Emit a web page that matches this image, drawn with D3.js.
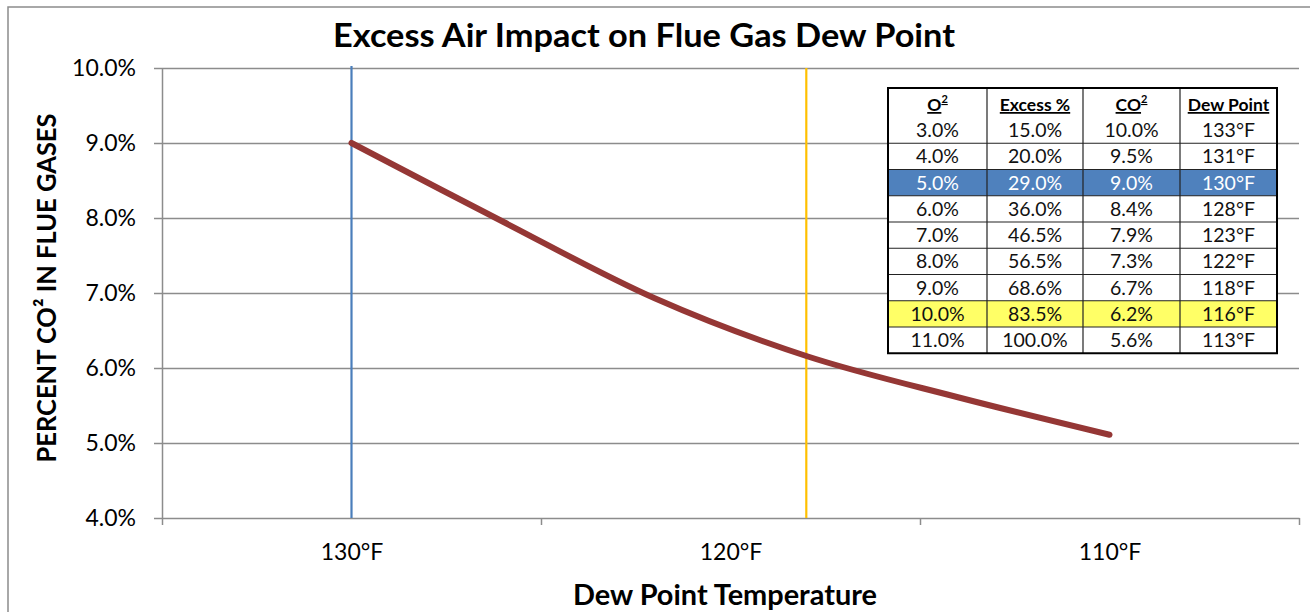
<!DOCTYPE html>
<html>
<head>
<meta charset="utf-8">
<script src="https://cdn.jsdelivr.net/npm/d3@7.9.0/dist/d3.min.js"></script>
<style>
  body { margin: 0; background: #fff; }
  text { font-family: Lato, 'Open Sans', sans-serif; }
</style>
</head>
<body>
<div id="chart"></div>
<script>
// curve values
const dewPoint = [130, 126, 122, 118, 114, 110];
const co2Pct = [9.0, 7.95, 6.93, 6.16, 5.61, 5.11];

const yTicks = [4, 5, 6, 7, 8, 9, 10];
const xLabelTicks = [130, 120, 110];
const xMarkTicks = [135, 125, 115, 105];

// vertical marker lines
const markerTemps = [130, 118];
const markerColors = ['#4a7ebb', '#ffc000'];

// inset table
const tableHead = ['O', 'Excess %', 'CO', 'Dew Point'];
const tableO2 = ['3.0%', '4.0%', '5.0%', '6.0%', '7.0%', '8.0%', '9.0%', '10.0%', '11.0%'];
const tableExcess = ['15.0%', '20.0%', '29.0%', '36.0%', '46.5%', '56.5%', '68.6%', '83.5%', '100.0%'];
const tableCO2 = ['10.0%', '9.5%', '9.0%', '8.4%', '7.9%', '7.3%', '6.7%', '6.2%', '5.6%'];
const tableDew = ['133°F', '131°F', '130°F', '128°F', '123°F', '122°F', '118°F', '116°F', '113°F'];
const highlightRows = { 2: '#4f81bd', 7: '#ffff66' };

const width = 1310;
const height = 612;
const plot = { left: 162, right: 1299, top: 68, bottom: 518 };

const svg = d3.select('#chart')
  .append('svg')
  .attr('width', width)
  .attr('height', height);

// outer chart frame
svg.append('rect')
  .attr('x', 8).attr('y', 7)
  .attr('width', 1400).attr('height', 700)
  .attr('fill', 'none')
  .attr('stroke', '#8c8c8c')
  .attr('stroke-width', 1.5);

const x = d3.scaleLinear().domain([135, 105]).range([plot.left, plot.right]);
const y = d3.scaleLinear().domain([4, 10]).range([plot.bottom, plot.top]);

// gridlines
const grid = svg.append('g')
  .attr('transform', `translate(${plot.left},0)`)
  .call(d3.axisLeft(y).tickValues(yTicks.slice(1)).tickFormat('').tickSize(-(plot.right - plot.left)));
grid.select('.domain').remove();
grid.selectAll('line').attr('stroke', '#8c8c8c').attr('stroke-width', 1.5);

// y axis
const yAxis = svg.append('g')
  .attr('transform', `translate(${plot.left},0)`)
  .call(d3.axisLeft(y).tickValues(yTicks).tickFormat((d) => d3.format('.1f')(d) + '%').tickSizeInner(8).tickSizeOuter(0).tickPadding(18));
yAxis.select('.domain').attr('stroke', '#8c8c8c').attr('stroke-width', 1.5);
yAxis.selectAll('line').attr('stroke', '#8c8c8c').attr('stroke-width', 1.5);
yAxis.selectAll('text').attr('font-size', 23).attr('fill', '#000').style('font-family', 'Lato');

// x axis: tick marks
const xAxis = svg.append('g')
  .attr('transform', `translate(0,${plot.bottom})`)
  .call(d3.axisBottom(x).tickValues(xMarkTicks).tickFormat('').tickSizeInner(7).tickSizeOuter(0));
xAxis.select('.domain').attr('stroke', '#8c8c8c').attr('stroke-width', 1.5);
xAxis.selectAll('line').attr('stroke', '#8c8c8c').attr('stroke-width', 1.5);

// x axis: labels
const xLabels = svg.append('g')
  .attr('transform', `translate(0,${plot.bottom})`)
  .call(d3.axisBottom(x).tickValues(xLabelTicks).tickFormat((d) => d + '°F').tickSize(0).tickPadding(26));
xLabels.select('.domain').remove();
xLabels.selectAll('text').attr('font-size', 23).attr('fill', '#000').style('font-family', 'Lato');

// marker lines
svg.append('g')
  .selectAll('line')
  .data(markerTemps)
  .join('line')
  .attr('x1', (d) => x(d)).attr('x2', (d) => x(d))
  .attr('y1', (d, i) => (i === 0 ? 66 : plot.top))
  .attr('y2', plot.bottom)
  .attr('stroke', (d, i) => markerColors[i])
  .attr('stroke-width', 2.2);

// the curve
const line = d3.line()
  .x((d, i) => x(dewPoint[i]))
  .y((d) => y(d))
  .curve(d3.curveCatmullRom.alpha(0.5));

svg.append('path')
  .datum(co2Pct)
  .attr('d', line)
  .attr('fill', 'none')
  .attr('stroke', '#953735')
  .attr('stroke-width', 6)
  .attr('stroke-linecap', 'round');

// titles
svg.append('text')
  .attr('x', 644).attr('y', 47)
  .attr('text-anchor', 'middle')
  .attr('font-size', 32)
  .attr('font-weight', 'bold')
  .attr('textLength', 622)
  .attr('lengthAdjust', 'spacingAndGlyphs')
  .text('Excess Air Impact on Flue Gas Dew Point');

svg.append('text')
  .attr('x', 725).attr('y', 605)
  .attr('text-anchor', 'middle')
  .attr('font-size', 28)
  .attr('font-weight', 'bold')
  .attr('textLength', 304)
  .attr('lengthAdjust', 'spacingAndGlyphs')
  .text('Dew Point Temperature');

svg.append('text')
  .attr('transform', 'translate(56,288) rotate(-90)')
  .attr('text-anchor', 'middle')
  .attr('font-size', 27)
  .attr('font-weight', 'bold')
  .attr('textLength', 349)
  .attr('lengthAdjust', 'spacingAndGlyphs')
  .text('PERCENT CO² IN FLUE GASES');

// inset table
const colX = [888, 987, 1083, 1180, 1277];
const tableTop = 88;
const headH = 29;
const rowH = 26.25;
const rowTop = (i) => tableTop + headH + i * rowH;
const tableBottom = rowTop(tableO2.length);
const columns = [tableO2, tableExcess, tableCO2, tableDew];

const table = svg.append('g');

table.append('rect')
  .attr('x', colX[0]).attr('y', tableTop)
  .attr('width', colX[4] - colX[0]).attr('height', tableBottom - tableTop)
  .attr('fill', '#fff');

table.selectAll('rect.hl')
  .data(Object.keys(highlightRows))
  .join('rect')
  .attr('class', 'hl')
  .attr('x', colX[0]).attr('y', (d) => rowTop(+d))
  .attr('width', colX[4] - colX[0]).attr('height', rowH)
  .attr('fill', (d) => highlightRows[d]);

// row lines (none between header and first row)
table.selectAll('line.row')
  .data(d3.range(1, tableO2.length))
  .join('line')
  .attr('class', 'row')
  .attr('x1', colX[0]).attr('x2', colX[4])
  .attr('y1', (d) => rowTop(d)).attr('y2', (d) => rowTop(d))
  .attr('stroke', '#222').attr('stroke-width', 1.2);

table.selectAll('line.col')
  .data(colX.slice(1, 4))
  .join('line')
  .attr('class', 'col')
  .attr('x1', (d) => d).attr('x2', (d) => d)
  .attr('y1', tableTop).attr('y2', tableBottom)
  .attr('stroke', '#222').attr('stroke-width', 1.2);

table.append('rect')
  .attr('x', colX[0]).attr('y', tableTop)
  .attr('width', colX[4] - colX[0]).attr('height', tableBottom - tableTop)
  .attr('fill', 'none')
  .attr('stroke', '#000')
  .attr('stroke-width', 2);

// header
const head = table.selectAll('text.head')
  .data(tableHead)
  .join('text')
  .attr('class', 'head')
  .attr('x', (d, i) => (colX[i] + colX[i + 1]) / 2)
  .attr('y', tableTop + 23)
  .attr('text-anchor', 'middle')
  .attr('font-size', 17.5)
  .attr('font-weight', 'bold')
  .style('text-decoration', 'underline');
head.append('tspan').text((d) => d);
head.filter((d, i) => i === 0 || i === 2)
  .append('tspan')
  .attr('dy', -8)
  .attr('font-size', 11)
  .text('2');

// cells
columns.forEach((col, c) => {
  table.selectAll(`text.c${c}`)
    .data(col)
    .join('text')
    .attr('class', `c${c}`)
    .attr('x', (colX[c] + colX[c + 1]) / 2)
    .attr('y', (d, i) => rowTop(i) + rowH / 2 + 7)
    .attr('text-anchor', 'middle')
    .attr('font-size', 19.5)
    .attr('fill', (d, i) => (i === 2 ? '#fff' : '#111'))
    .text((d) => d);
});
</script>
</body>
</html>
